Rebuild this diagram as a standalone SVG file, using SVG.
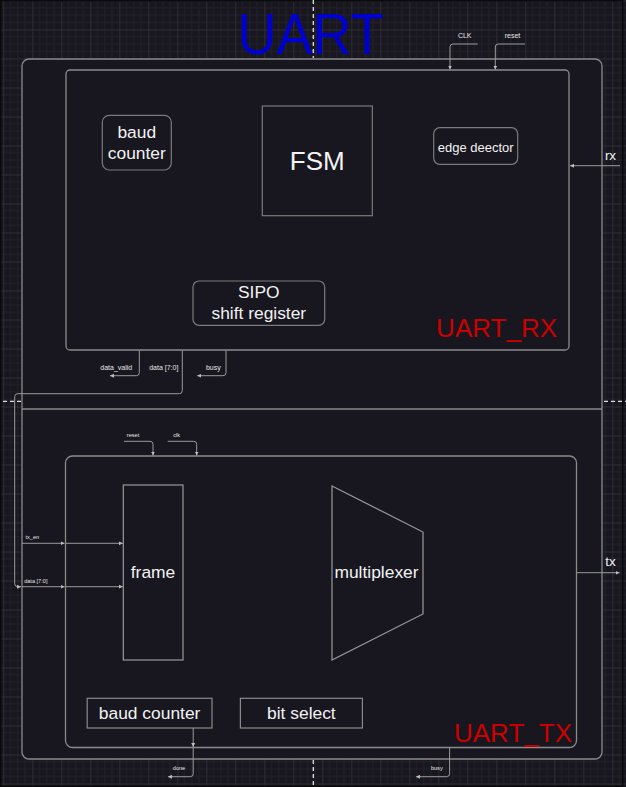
<svg xmlns="http://www.w3.org/2000/svg" width="626" height="787" viewBox="0 0 626 787">
<style>
text{font-family:"Liberation Sans",Arial,sans-serif;fill:#f2f2f2}
.cont{fill:#18171f;stroke:#8a8a8a;stroke-width:1.3}
.node{fill:#18171f;stroke:#7a7a7a;stroke-width:1.2}
.lbl{font-size:17.4px;text-anchor:middle}
.sm{font-size:7px;text-anchor:middle;fill:#e6e6e6}
.xs{font-size:5.6px;text-anchor:middle;fill:#e6e6e6}
.io{font-size:13.5px;text-anchor:middle}
.cn{fill:none;stroke:#9a9a9a;stroke-width:1}
.guide{stroke:#e0e0e0;stroke-width:1.3;stroke-dasharray:4 3;fill:none}
</style>
<defs>
<pattern id="grid" patternUnits="userSpaceOnUse" x="3.3" y="0.5" width="29" height="29">
<path d="M7.25 0V29M14.5 0V29M21.75 0V29M0 7.25H29M0 14.5H29M0 21.75H29" stroke="#222129" stroke-width="1" fill="none"/>
<path d="M0.5 0V29M0 0.5H29" stroke="#2e2d35" stroke-width="1" fill="none"/>
</pattern>
<marker id="ar" markerUnits="userSpaceOnUse" markerWidth="5" markerHeight="5" refX="4" refY="2.5" orient="auto">
<path d="M0,0.5 L4,2.5 L0,4.5 Z" fill="#bdbdbd"/>
</marker>
</defs>
<rect width="626" height="787" fill="#18171f"/>
<rect width="626" height="787" fill="url(#grid)"/>
<rect x="0.75" y="0.75" width="622" height="785.5" fill="none" stroke="#0a0a0c" stroke-width="1.5"/>

<g id="guides">
<path class="guide" d="M313.3 0V58M313.3 760V787M3 401.3H21M604 401.3H626"/>
</g>

<g id="uart-outer">
<rect class="cont" x="22" y="59" width="580" height="700" rx="7"/>
<line x1="22" y1="409" x2="602" y2="409" stroke="#8a8a8a" stroke-width="1.3"/>
<text x="310.5" y="54" font-size="58" fill="#0000cc" style="fill:#0000cc" text-anchor="middle" textLength="146" lengthAdjust="spacingAndGlyphs">UART</text>
</g>

<g id="uart_rx">
<rect class="cont" x="66" y="70" width="503" height="280" rx="4"/>
<text x="557" y="337" font-size="26" text-anchor="end" style="fill:#cc0000">UART_RX</text>
</g>

<g id="baud_counter_rx">
<rect class="node" x="102.3" y="115.3" width="69" height="54.7" rx="7"/>
<text class="lbl" x="136.8" y="138">baud</text>
<text class="lbl" x="136.8" y="159">counter</text>
</g>

<g id="fsm">
<rect class="node" x="262.3" y="106" width="110" height="109.7"/>
<text x="317.3" y="170" font-size="26" text-anchor="middle">FSM</text>
</g>

<g id="edge_detector">
<rect class="node" x="433.7" y="127.7" width="84" height="36.6" rx="6"/>
<text x="475.7" y="152" font-size="13" text-anchor="middle">edge deector</text>
</g>

<g id="sipo">
<rect class="node" x="193" y="281" width="131.7" height="44.3" rx="6"/>
<text class="lbl" x="258.8" y="298">SIPO</text>
<text class="lbl" x="258.8" y="318.7">shift register</text>
</g>

<g id="uart_tx">
<rect class="cont" x="65.5" y="456" width="511" height="291.5" rx="7"/>
<text x="572" y="742" font-size="26" text-anchor="end" style="fill:#cc0000">UART_TX</text>
</g>

<g id="frame">
<rect class="node" x="123.3" y="485" width="59.7" height="175" style="stroke:#9a9a9a"/>
<text class="lbl" x="153" y="578">frame</text>
</g>

<g id="multiplexer">
<polygon class="node" points="332,486 423,532 423,614 332,660" style="stroke:#9a9a9a"/>
<text class="lbl" x="376.5" y="578">multiplexer</text>
</g>

<g id="baud_counter_tx">
<rect class="node" x="87.2" y="698.3" width="124.8" height="29.7" style="stroke:#8a8a8a"/>
<text class="lbl" x="149.6" y="719">baud counter</text>
</g>

<g id="bit_select">
<rect class="node" x="240.4" y="698.3" width="122" height="29.7" style="stroke:#8a8a8a"/>
<text class="lbl" x="301.4" y="719">bit select</text>
</g>

<g id="connectors">
<path class="cn" marker-end="url(#ar)" d="M477.7 44H453Q450 44 450 47V69.5"/>
<path class="cn" marker-end="url(#ar)" d="M525 44H498.3Q495.3 44 495.3 47V69.5"/>
<path class="cn" marker-end="url(#ar)" d="M620 165.7H570"/>
<path class="cn" marker-end="url(#ar)" d="M139.3 350.5V372.7Q139.3 375.7 136.3 375.7H110"/>
<path class="cn" marker-end="url(#ar)" d="M226 350.5V372.7Q226 375.7 223 375.7H197.3"/>
<path class="cn" marker-end="url(#ar)" d="M182.3 350.5V390.7Q182.3 393.7 179.3 393.7H17.7Q14.7 393.7 14.7 396.7V583.7Q14.7 586.7 17.7 586.7H21"/>
<path class="cn" marker-end="url(#ar)" d="M22 586.7H64.5"/>
<path class="cn" marker-end="url(#ar)" d="M66 586.7H122.8"/>
<path class="cn" marker-end="url(#ar)" d="M22 543.3H64.5"/>
<path class="cn" marker-end="url(#ar)" d="M66 543.3H122.8"/>
<path class="cn" marker-end="url(#ar)" d="M124 441.3H150Q153 441.3 153 444.3V455.5"/>
<path class="cn" marker-end="url(#ar)" d="M167.7 441.3H193.7Q196.7 441.3 196.7 444.3V455.5"/>
<path class="cn" marker-end="url(#ar)" d="M577 572.7H619.5"/>
<path class="cn" marker-end="url(#ar)" d="M193.2 728V747"/>
<path class="cn" marker-end="url(#ar)" d="M193.2 748V773.7Q193.2 776.7 190.2 776.7H168"/>
<path class="cn" marker-end="url(#ar)" d="M449.6 748V773.7Q449.6 776.7 446.6 776.7H416"/>
</g>

<g id="labels">
<text class="sm" x="464.7" y="38">CLK</text>
<text class="sm" x="512.5" y="38">reset</text>
<text class="io" x="610.5" y="160">rx</text>
<text class="sm" x="116.3" y="369.5">data_valid</text>
<text class="sm" x="163.8" y="369.5">data [7:0]</text>
<text class="sm" x="213.3" y="369.5">busy</text>
<text class="xs" x="133" y="436.7">reset</text>
<text class="xs" x="176.7" y="436.7">clk</text>
<text class="xs" x="32.3" y="539.3">tx_en</text>
<text class="xs" x="35.8" y="582.7">data [7:0]</text>
<text class="io" x="610.5" y="565.7">tx</text>
<text class="xs" x="179" y="770.3">done</text>
<text class="xs" x="436.8" y="770.3">busy</text>
</g>
</svg>
